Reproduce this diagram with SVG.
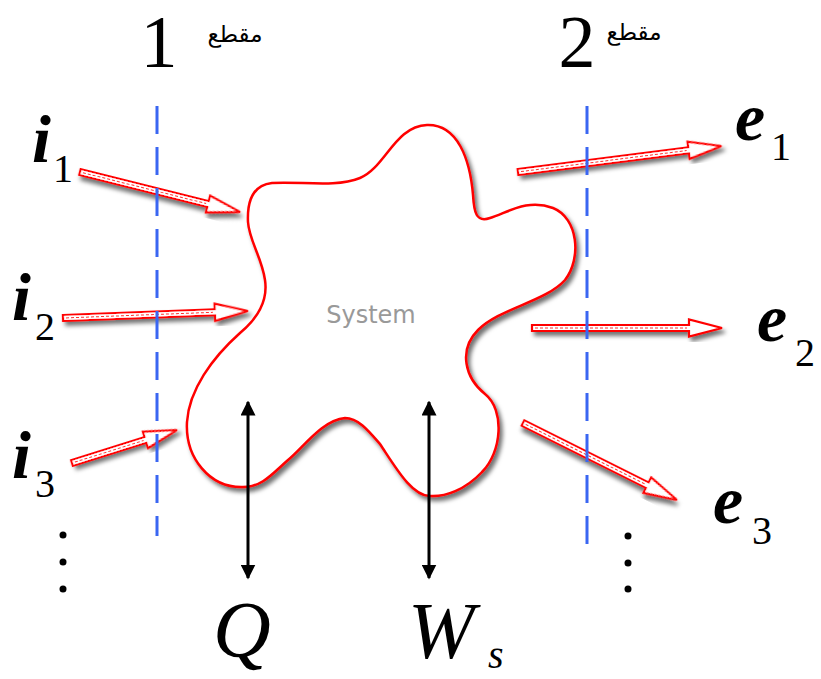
<svg xmlns="http://www.w3.org/2000/svg" width="821" height="679" viewBox="0 0 821 679">
<defs>
<filter id="sh" x="-20%" y="-20%" width="150%" height="150%">
<feDropShadow dx="3" dy="4" stdDeviation="2" flood-color="#000" flood-opacity="0.55"/>
</filter>
<marker id="ah" viewBox="0 0 10 10" refX="9" refY="5" markerWidth="5" markerHeight="5" orient="auto-start-reverse">
<path d="M0,0 L10,5 L0,10 Z" fill="#000"/>
</marker>
</defs>
<style>
.rarr{fill:#fff;stroke:#f00;stroke-width:2.2;stroke-linejoin:miter;filter:url(#sh)}
.rin{stroke:#f33;stroke-width:1;stroke-dasharray:3 2;fill:none}
.dash{stroke:#3a66f2;stroke-width:3;stroke-dasharray:28 13;fill:none}
.bar{stroke:#000;stroke-width:3;fill:none;marker-start:url(#ah);marker-end:url(#ah)}
.big{font-family:"Liberation Serif","Times New Roman",serif;font-size:74px;fill:#000}
.ar{font-family:"DejaVu Sans","Noto Sans",sans-serif;font-size:23px;fill:#000}
.var{font-family:"Liberation Serif",serif;font-style:italic;font-weight:bold;font-size:68px;fill:#000}
.sub{font-family:"Liberation Serif",serif;font-size:40px;fill:#000}
.iv{font-family:"Liberation Serif",serif;font-style:italic;font-size:80px;fill:#000}
.dot{fill:#000}
</style>

<g id="system">
<path d="M 248,222 C 247,200 254,185 272,183 C 300,181 335,188 360,178 C 385,168 395,126 427,125 C 458,124 470,160 473,195 C 474,212 476,223 490,218 C 507,213 527,198 553,208 C 578,218 582,258 565,280 C 545,302 500,308 478,330 C 458,350 465,378 485,394 C 505,410 502,452 482,472 C 465,490 445,497 430,496 C 412,496 396,468 380,444 C 368,430 358,418 345,418 C 322,420 303,448 288,460 C 272,474 262,487 243,487 C 210,488 185,458 187,422 C 189,390 212,358 240,333 C 258,318 268,300 265,280 C 262,258 249,240 248,222 Z" fill="#fff" stroke="#f00" stroke-width="2.5" filter="url(#sh)"/>
<text x="371" y="323" text-anchor="middle" font-family="DejaVu Sans, Verdana, sans-serif" font-size="24" fill="#999">System</text>
</g>

<g id="connectors">
<g id="arrow-i1" transform="translate(80,172) rotate(14.04)">
<path class="rarr" d="M0,-3 L132,-3 L132,-8.5 L165,0 L132,8.5 L132,3 L0,3 Z"/>
<path class="rin" d="M3,0 L130,0"/>
</g>
<g id="arrow-i2" transform="translate(63,318) rotate(-2.17)">
<path class="rarr" d="M0,-3 L152,-3 L152,-8.5 L185,0 L152,8.5 L152,3 L0,3 Z"/>
<path class="rin" d="M3,0 L150,0"/>
</g>
<g id="arrow-i3" transform="translate(72,463) rotate(-17.45)">
<path class="rarr" d="M0,-3 L77,-3 L77,-8.5 L110,0 L77,8.5 L77,3 L0,3 Z"/>
<path class="rin" d="M3,0 L75,0"/>
</g>
<g id="arrow-e1" transform="translate(518,172) rotate(-7.26)">
<path class="rarr" d="M0,-3 L172,-3 L172,-8.5 L205,0 L172,8.5 L172,3 L0,3 Z"/>
<path class="rin" d="M3,0 L170,0"/>
</g>
<g id="arrow-e2" transform="translate(532,328)">
<path class="rarr" d="M0,-3 L157,-3 L157,-8.5 L190,0 L157,8.5 L157,3 L0,3 Z"/>
<path class="rin" d="M3,0 L155,0"/>
</g>
<g id="arrow-e3" transform="translate(523,423) rotate(26.57)">
<path class="rarr" d="M0,-3 L139,-3 L139,-8.5 L172,0 L139,8.5 L139,3 L0,3 Z"/>
<path class="rin" d="M3,0 L137,0"/>
</g>
<line id="arrow-Q" class="bar" x1="248" y1="402" x2="248" y2="578"/>
<line id="arrow-W" class="bar" x1="429" y1="402" x2="429" y2="578"/>
</g>

<g id="section-lines">
<line class="dash" x1="157" y1="106" x2="157" y2="536"/>
<line class="dash" x1="587" y1="106" x2="587" y2="548"/>
</g>

<g id="section-1">
<text class="big" x="159" y="67" text-anchor="middle">1</text>
<text class="ar" x="235" y="42" text-anchor="middle">مقطع</text>
</g>
<g id="section-2">
<text class="big" x="577" y="67" text-anchor="middle">2</text>
<text class="ar" x="634" y="40" text-anchor="middle">مقطع</text>
</g>

<g id="label-i1"><text class="var" x="32" y="162">i</text><text class="sub" x="53" y="182">1</text></g>
<g id="label-i2"><text class="var" x="12" y="320">i</text><text class="sub" x="35" y="340">2</text></g>
<g id="label-i3"><text class="var" x="12" y="478">i</text><text class="sub" x="35" y="497">3</text></g>
<g id="label-e1"><text class="var" x="735" y="140">e</text><text class="sub" x="771" y="160">1</text></g>
<g id="label-e2"><text class="var" x="757" y="341">e</text><text class="sub" x="795" y="366">2</text></g>
<g id="label-e3"><text class="var" x="713" y="523">e</text><text class="sub" x="752" y="544">3</text></g>
<g id="label-Q"><text class="iv" x="213" y="657">Q</text></g>
<g id="label-W"><text class="iv" x="408" y="658">W</text><text class="sub" x="488" y="668" font-size="34" font-style="italic">s</text></g>

<g id="dots-left"><circle class="dot" cx="63" cy="535" r="3.5"/><circle class="dot" cx="63" cy="562" r="3.5"/><circle class="dot" cx="63" cy="589" r="3.5"/></g>
<g id="dots-right"><circle class="dot" cx="628" cy="536" r="3.5"/><circle class="dot" cx="628" cy="563" r="3.5"/><circle class="dot" cx="628" cy="589" r="3.5"/></g>
</svg>
